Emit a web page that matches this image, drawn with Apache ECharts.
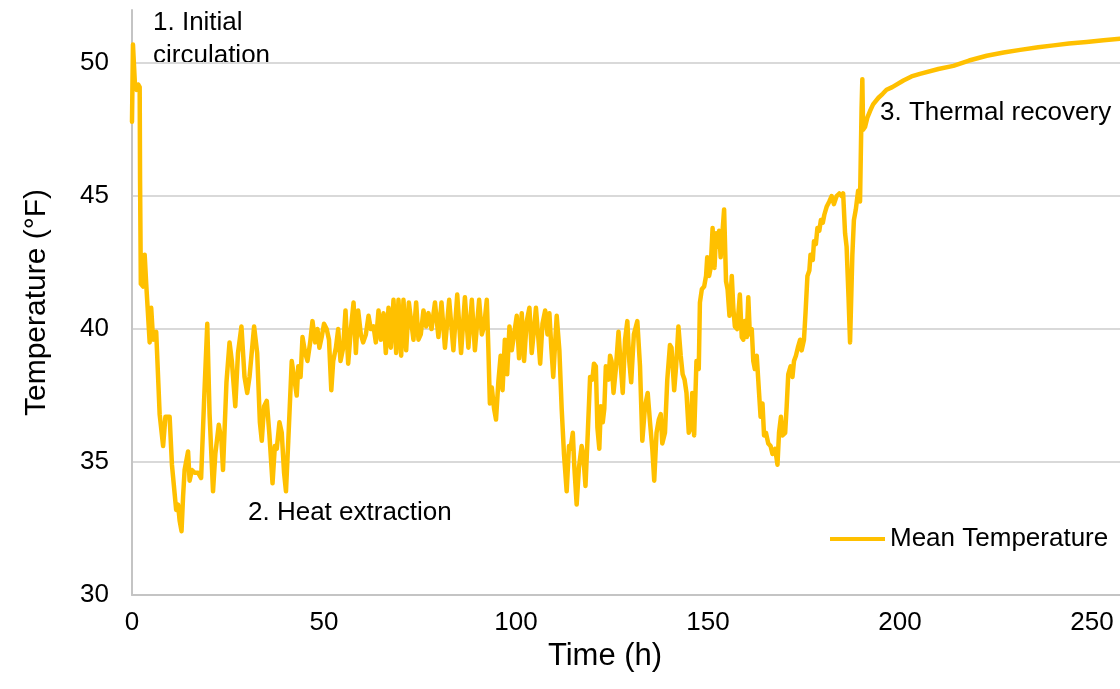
<!DOCTYPE html>
<html>
<head>
<meta charset="utf-8">
<script src="https://cdn.jsdelivr.net/npm/echarts@6/dist/echarts.min.js"></script>
<style>
  html, body { margin: 0; padding: 0; background: #fff; }
  #chart { width: 1120px; height: 689px; }
</style>
</head>
<body>
<div id="chart"></div>
<script>
// time (h) and mean temperature (°F)
var hours = [
  0.0, 0.25, 0.8, 1.2, 1.6, 2.0, 2.1, 2.3, 2.9, 3.3, 3.7, 4.6, 5.0, 5.5, 6.3, 7.2, 8.1, 8.7, 9.8, 10.4,
  11.5, 12.0, 12.4, 12.9, 13.3, 13.7, 14.6, 15.0, 15.6, 16.3, 17.2, 18.0, 18.8, 19.6, 20.2, 21.1, 21.7, 22.6, 23.3, 23.7,
  24.6, 25.4, 26.0, 26.9, 27.6, 28.5, 29.3, 30.0, 30.6, 31.8, 32.6, 33.3, 33.8, 34.4, 35.1, 35.8, 36.6, 37.2, 37.7, 38.4,
  39.0, 39.6, 40.1, 40.7, 41.6, 42.2, 42.9, 43.3, 43.9, 44.4, 45.1, 45.7, 46.4, 47.0, 47.7, 48.3, 48.8, 49.4, 50.0, 50.7,
  51.3, 51.9, 52.4, 53.1, 53.7, 54.3, 55.0, 55.6, 56.3, 57.0, 57.7, 58.3, 58.9, 59.6, 60.2, 60.9, 61.6, 62.2, 62.9, 63.5,
  64.2, 64.8, 65.5, 66.1, 66.8, 67.4, 68.1, 68.8, 69.4, 70.1, 70.7, 71.4, 72.1, 73.3, 74.0, 74.6, 75.2, 75.9, 76.6, 77.2,
  78.0, 78.9, 79.8, 80.6, 81.5, 82.6, 83.7, 84.7, 85.7, 86.7, 87.6, 88.5, 89.3, 90.4, 91.1, 91.7, 92.4, 92.8, 93.2, 93.7,
  94.3, 94.8, 95.4, 96.0, 96.5, 97.1, 97.7, 98.3, 98.9, 99.5, 100.2, 100.8, 101.5, 102.1, 102.8, 103.5, 104.1, 104.7, 105.2, 105.8,
  106.3, 106.9, 107.6, 108.2, 108.7, 109.2, 109.7, 110.6, 111.3, 111.9, 112.5, 113.2, 113.8, 114.2, 114.8, 115.2, 115.8, 116.4, 117.1, 117.5,
  118.1, 118.7, 119.3, 119.9, 120.3, 120.8, 121.2, 121.7, 122.1, 122.6, 123.0, 123.4, 124.1, 124.5, 124.9, 125.4, 126.0, 126.7, 127.3, 127.8,
  128.4, 129.0, 129.5, 130.0, 130.7, 131.6, 132.3, 132.9, 133.6, 134.3, 134.9, 135.5, 136.0, 136.6, 137.2, 137.7, 138.1, 138.8, 139.4, 140.1,
  140.5, 141.2, 141.7, 142.3, 142.9, 143.4, 143.9, 144.4, 145.0, 145.5, 145.9, 146.4, 147.0, 147.6, 147.9, 148.4, 149.0, 149.5, 149.8, 150.3,
  150.7, 151.2, 151.7, 152.1, 152.4, 152.9, 153.3, 153.7, 154.2, 154.7, 155.1, 155.6, 156.2, 156.6, 157.0, 157.6, 158.3, 158.8, 159.2, 159.6,
  160.1, 160.5, 160.9, 161.4, 161.8, 162.2, 162.7, 163.3, 163.7, 164.2, 164.6, 165.1, 165.7, 166.3, 166.8, 167.5, 168.1, 168.5, 169.0, 169.4,
  170.1, 170.5, 170.9, 171.5, 172.0, 172.4, 172.9, 173.4, 174.0, 174.4, 175.0, 175.4, 175.9, 176.4, 176.7, 177.3, 177.6, 178.1, 178.5, 179.0,
  179.4, 179.9, 180.3, 180.9, 181.6, 182.2, 182.8, 183.5, 184.2, 184.8, 185.2, 185.7, 186.1, 186.6, 187.0, 187.6, 188.0, 188.5, 189.1, 189.6,
  190.0, 190.2, 190.4, 190.9, 191.5, 192.2, 193.0, 194.4, 195.5, 196.5, 198.0, 200.9, 203.0, 205.2, 210.0, 213.9, 218.0, 222.6, 227.0, 231.3,
  236.0, 240.0, 244.0, 248.6, 253.0, 257.3
];
var meanTemp = [
  47.8, 50.7, 49.1, 49.0, 49.2, 49.1, 45.6, 41.7, 41.6, 42.8, 41.7, 39.5, 40.8, 39.6, 39.9, 36.8, 35.6, 36.7, 36.7, 34.9,
  33.2, 33.4, 32.8, 32.4, 33.7, 34.7, 35.4, 34.3, 34.7, 34.6, 34.6, 34.4, 37.4, 40.2, 36.8, 33.9, 35.3, 36.4, 35.8, 34.7,
  38.0, 39.5, 38.8, 37.1, 39.1, 40.1, 38.2, 37.6, 38.2, 40.1, 39.1, 36.5, 35.8, 37.1, 37.3, 36.0, 34.2, 35.6, 35.5, 36.5,
  36.1, 34.6, 33.9, 35.8, 38.8, 38.2, 37.5, 38.6, 38.2, 39.7, 39.1, 38.8, 39.5, 40.3, 39.5, 40.0, 39.3, 39.7, 40.2, 40.0,
  39.6, 37.7, 38.8, 39.3, 40.0, 38.8, 39.3, 40.7, 38.7, 40.0, 41.0, 39.1, 40.7, 39.8, 39.5, 39.8, 40.5, 40.0, 40.1, 39.5,
  40.7, 39.6, 40.6, 39.1, 40.8, 39.3, 41.1, 39.1, 41.1, 39.0, 41.1, 39.2, 41.0, 39.6, 41.0, 39.6, 39.8, 40.7, 40.1, 40.6,
  40.0, 41.0, 39.7, 41.0, 39.3, 41.1, 39.2, 41.3, 39.1, 41.2, 39.3, 41.1, 39.2, 41.1, 39.8, 40.1, 41.1, 39.3, 37.2, 37.8,
  37.0, 36.6, 38.0, 39.0, 37.7, 39.6, 38.3, 40.1, 39.2, 39.8, 40.5, 38.9, 40.6, 38.8, 40.3, 40.8, 39.1, 40.0, 40.8, 39.7,
  38.7, 40.2, 40.7, 39.8, 40.6, 39.3, 38.2, 40.5, 39.2, 37.0, 35.3, 33.9, 35.6, 35.5, 36.1, 34.8, 33.4, 34.8, 35.6, 35.3,
  34.1, 36.1, 38.2, 38.1, 38.7, 38.6, 36.3, 35.5, 37.1, 36.5, 37.0, 38.6, 38.1, 39.0, 38.8, 37.6, 38.5, 39.9, 38.6, 37.6,
  39.6, 40.3, 38.8, 38.0, 39.8, 40.3, 38.6, 35.8, 37.1, 37.6, 36.5, 35.5, 34.3, 36.1, 36.6, 36.8, 35.7, 36.1, 38.1, 39.4,
  39.3, 37.7, 38.6, 40.1, 39.0, 38.3, 38.1, 37.6, 36.1, 36.3, 37.6, 36.0, 38.8, 38.5, 41.0, 41.5, 41.6, 42.0, 42.7, 42.0,
  42.3, 43.8, 42.3, 43.6, 43.1, 43.7, 42.7, 42.7, 44.5, 41.8, 41.5, 40.5, 42.0, 40.8, 40.1, 40.0, 41.3, 39.7, 39.6, 40.3,
  39.7, 41.2, 39.8, 40.0, 38.8, 38.5, 39.0, 37.6, 36.7, 37.2, 36.0, 36.1, 35.7, 35.6, 35.3, 35.5, 34.9, 36.1, 36.7, 36.0,
  36.1, 37.1, 38.3, 38.6, 38.2, 38.8, 39.0, 39.3, 39.6, 39.2, 39.6, 40.6, 42.0, 42.2, 42.8, 42.6, 43.3, 43.2, 43.8, 43.7,
  44.1, 44.0, 44.3, 44.6, 44.8, 45.0, 44.7, 45.0, 45.1, 45.0, 45.1, 43.6, 43.1, 41.2, 39.5, 42.8, 44.1, 44.5, 45.2, 44.8,
  48.3, 49.4, 47.5, 47.6, 47.95, 48.2, 48.45, 48.7, 48.85, 49.0, 49.1, 49.35, 49.5, 49.6, 49.78, 49.9, 50.1, 50.28, 50.4, 50.5,
  50.6, 50.67, 50.74, 50.8, 50.86, 50.92
];

var seriesName = 'Mean Temperature';
var xLabel = 'Time (h)';
var yLabel = 'Temperature (°F)';
var notes = ['1. Initial\ncirculation', '2. Heat extraction', '3. Thermal recovery'];

var FONT = '"Liberation Sans", Arial, sans-serif';
var GOLD = '#FFC000';

var points = [];
for (var i = 0; i < hours.length; i++) {
  points.push([hours[i], meanTemp[i]]);
}

var chart = echarts.init(document.getElementById('chart'));

var option = {
  animation: false,
  backgroundColor: '#fff',
  textStyle: { fontFamily: FONT },
  grid: { left: 132, right: 0, top: 10, bottom: 94, containLabel: false },
  legend: {
    data: [{ name: seriesName, icon: 'rect' }],
    left: 825,
    top: 521,
    itemWidth: 55,
    itemHeight: 4,
    itemStyle: { color: GOLD },
    textStyle: { fontSize: 26, color: '#000', fontFamily: FONT }
  },
  xAxis: {
    type: 'value',
    min: 0,
    max: 257.3,
    interval: 50,
    name: xLabel,
    nameLocation: 'middle',
    nameGap: 25,
    nameTextStyle: { fontSize: 31, color: '#000', fontFamily: FONT, padding: [0, 42, 0, 0] },
    axisLine: { show: true, lineStyle: { color: '#c4c4c4', width: 2 } },
    axisTick: { show: false },
    axisLabel: {
      fontSize: 26, color: '#000', margin: 15, showMaxLabel: false,
      formatter: function (v) { return v % 50 === 0 ? String(v) : ''; }
    },
    splitLine: { show: false }
  },
  yAxis: {
    type: 'value',
    min: 30,
    max: 52,
    interval: 5,
    name: yLabel,
    nameLocation: 'middle',
    nameRotate: 90,
    nameGap: 80,
    nameTextStyle: { fontSize: 30, color: '#000', fontFamily: FONT },
    axisLine: { show: true, lineStyle: { color: '#c4c4c4', width: 2 } },
    axisTick: { show: false },
    axisLabel: {
      fontSize: 26, color: '#000', margin: 23, showMaxLabel: false,
      formatter: function (v) { return v % 5 === 0 ? String(v) : ''; }
    },
    splitLine: { show: true, showMaxLine: false, lineStyle: { color: '#d9d9d9', width: 2 } }
  },
  graphic: [
    { type: 'text', left: 153, top: 6, style: { text: notes[0], fontSize: 26, lineHeight: 33, fontFamily: FONT, fill: '#000' } },
    { type: 'text', left: 248, top: 500, style: { text: notes[1], fontSize: 26, fontFamily: FONT, fill: '#000' } },
    { type: 'text', left: 880, top: 100, style: { text: notes[2], fontSize: 26, fontFamily: FONT, fill: '#000' } }
  ],
  series: [
    {
      name: seriesName,
      type: 'line',
      data: points,
      showSymbol: false,
      symbol: 'none',
      lineStyle: { color: GOLD, width: 4.5, join: 'round', cap: 'round' },
      itemStyle: { color: GOLD }
    }
  ]
};

chart.setOption(option);
</script>
</body>
</html>
